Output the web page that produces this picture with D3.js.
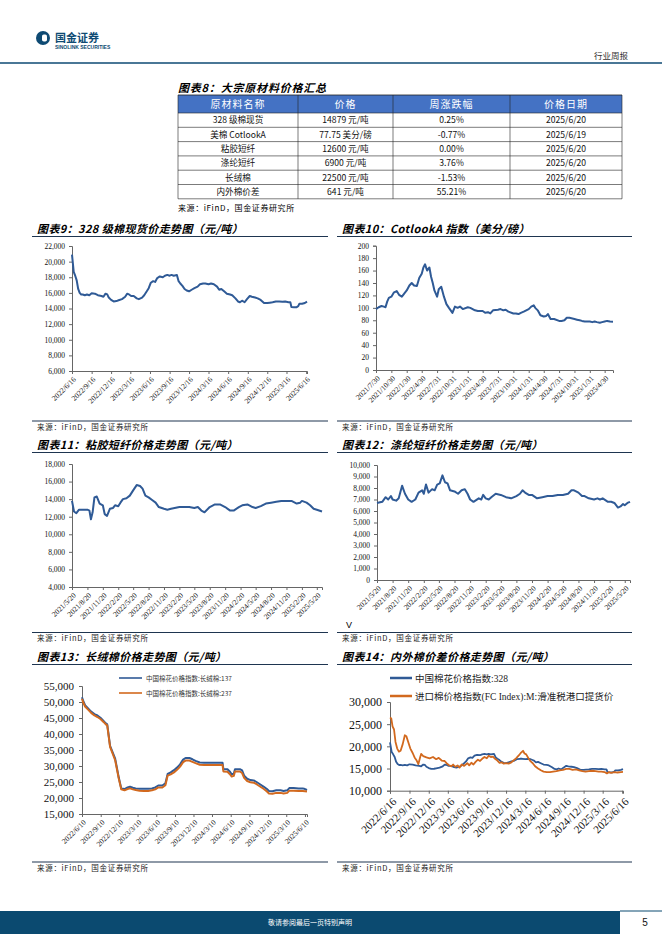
<!DOCTYPE html>
<html><head><meta charset="utf-8">
<script src="https://cdn.jsdelivr.net/npm/d3@7"></script>
<style>body{margin:0;background:#fff}svg{display:block}</style>
</head><body>
<script>
// ---------- DATA ----------
const tableHeader = ["原材料名称","价格","周涨跌幅","价格日期"];
const tableNames = ["328 级棉现货","美棉 CotlookA","粘胶短纤","涤纶短纤","长绒棉","内外棉价差"];
const tablePrices = ["14879 元/吨","77.75 美分/磅","12600 元/吨","6900 元/吨","22500 元/吨","641 元/吨"];
const tableChanges = ["0.25%","-0.77%","0.00%","3.76%","-1.53%","55.21%"];
const tableDates = ["2025/6/20","2025/6/19","2025/6/20","2025/6/20","2025/6/20","2025/6/20"];

const ticks9 = ["2022/6/16","2022/9/16","2022/12/16","2023/3/16","2023/6/16","2023/9/16","2023/12/16","2024/3/16","2024/6/16","2024/9/16","2024/12/16","2025/3/16","2025/6/16"];
const ticks10 = ["2021/7/30","2021/10/30","2022/1/30","2022/4/30","2022/7/31","2022/10/31","2023/1/31","2023/4/30","2023/7/31","2023/10/31","2024/1/31","2024/4/30","2024/7/31","2024/10/31","2025/1/31","2025/4/30"];
const ticks11 = ["2021/5/20","2021/8/20","2021/11/20","2022/2/20","2022/5/20","2022/8/20","2022/11/20","2023/2/20","2023/5/20","2023/8/20","2023/11/20","2024/2/20","2024/5/20","2024/8/20","2024/11/20","2025/2/20","2025/5/20"];
const ticks13 = ["2022/6/10","2022/9/10","2022/12/10","2023/3/10","2023/6/10","2023/9/10","2023/12/10","2024/3/10","2024/6/10","2024/9/10","2024/12/10","2025/3/10","2025/6/10"];

const cotton328 = [["2022/6/16",20900],["2022/6/20",19800],["2022/6/24",18700],["2022/7/1",18200],["2022/7/8",17600],["2022/7/15",16500],["2022/7/22",16000],["2022/7/29",15800],["2022/8/5",15800],["2022/8/15",15700],["2022/8/25",15800],["2022/9/5",15700],["2022/9/16",15950],["2022/10/1",15900],["2022/10/15",15700],["2022/11/1",15600],["2022/11/10",15500],["2022/11/20",15900],["2022/11/28",15800],["2022/12/5",15400],["2022/12/16",15100],["2022/12/28",14900],["2023/1/10",14950],["2023/1/20",15050],["2023/2/5",15200],["2023/2/20",15500],["2023/3/1",15900],["2023/3/10",15800],["2023/3/20",15600],["2023/4/1",15600],["2023/4/15",15300],["2023/4/25",15200],["2023/5/10",15400],["2023/5/20",15700],["2023/6/1",16200],["2023/6/10",16600],["2023/6/20",17300],["2023/7/1",17500],["2023/7/10",17400],["2023/7/20",17900],["2023/8/1",18100],["2023/8/15",18000],["2023/8/25",18200],["2023/9/5",18300],["2023/9/16",18200],["2023/9/25",18300],["2023/10/5",18200],["2023/10/20",18300],["2023/10/28",17500],["2023/11/5",17200],["2023/11/15",16900],["2023/11/25",16500],["2023/12/5",16300],["2023/12/16",16200],["2023/12/28",16400],["2024/1/10",16600],["2024/1/25",16800],["2024/2/5",17100],["2024/2/20",17200],["2024/3/1",17200],["2024/3/16",17100],["2024/3/28",17200],["2024/4/10",17100],["2024/4/25",16800],["2024/5/5",16400],["2024/5/15",16500],["2024/5/28",16200],["2024/6/10",15900],["2024/6/25",15800],["2024/7/5",15700],["2024/7/20",15300],["2024/8/1",14900],["2024/8/10",14800],["2024/8/20",15000],["2024/9/1",14800],["2024/9/12",15200],["2024/9/25",15600],["2024/10/5",15500],["2024/10/20",15400],["2024/11/1",15300],["2024/11/15",15100],["2024/12/1",14700],["2024/12/16",14700],["2024/12/28",14750],["2025/1/10",14800],["2025/1/25",14900],["2025/2/10",14900],["2025/2/25",14850],["2025/3/10",14900],["2025/3/25",14800],["2025/4/3",14800],["2025/4/8",14200],["2025/4/20",14150],["2025/5/1",14150],["2025/5/10",14300],["2025/5/15",14600],["2025/5/28",14600],["2025/6/10",14700],["2025/6/20",14879]];

const cotlookA = [["2021/7/30",98],["2021/8/15",101],["2021/9/1",103],["2021/9/15",102],["2021/9/25",101],["2021/10/5",110],["2021/10/15",116],["2021/10/30",118],["2021/11/15",125],["2021/12/1",127],["2021/12/15",121],["2022/1/1",118],["2022/1/15",123],["2022/1/30",128],["2022/2/15",136],["2022/3/1",140],["2022/3/15",136],["2022/4/1",135],["2022/4/15",148],["2022/4/30",155],["2022/5/10",165],["2022/5/20",170],["2022/6/1",160],["2022/6/15",165],["2022/6/25",150],["2022/7/5",140],["2022/7/15",128],["2022/7/31",118],["2022/8/10",130],["2022/8/25",134],["2022/9/10",118],["2022/9/25",106],["2022/10/10",100],["2022/10/31",92],["2022/11/15",102],["2022/12/1",100],["2022/12/15",102],["2023/1/1",98],["2023/1/31",101],["2023/2/15",100],["2023/3/1",98],["2023/3/15",96],["2023/4/1",95],["2023/4/30",95],["2023/5/15",92],["2023/6/1",93],["2023/6/15",91],["2023/7/1",96],["2023/7/31",97],["2023/8/15",98],["2023/9/1",96],["2023/9/15",97],["2023/10/1",94],["2023/10/31",91],["2023/11/15",91],["2023/12/1",90],["2023/12/15",92],["2024/1/1",94],["2024/1/31",98],["2024/2/15",102],["2024/3/1",104],["2024/3/10",100],["2024/3/25",96],["2024/4/10",88],["2024/4/30",86],["2024/5/15",87],["2024/5/25",90],["2024/6/10",82],["2024/7/1",82],["2024/7/31",79],["2024/8/15",79],["2024/9/1",80],["2024/9/15",84],["2024/10/1",84],["2024/10/31",82],["2024/11/15",81],["2024/12/1",80],["2024/12/15",79],["2025/1/1",78],["2025/1/31",78],["2025/2/15",77],["2025/3/1",78],["2025/3/15",77],["2025/4/1",76],["2025/4/15",77],["2025/4/30",78],["2025/5/15",79],["2025/6/1",78],["2025/6/19",77.75]];

const viscose = [["2021/5/20",13800],["2021/6/1",12600],["2021/6/15",12400],["2021/7/1",12800],["2021/7/20",12800],["2021/8/20",12800],["2021/9/1",12700],["2021/9/10",11700],["2021/9/20",12500],["2021/10/1",14200],["2021/10/15",14300],["2021/11/1",13500],["2021/11/20",13300],["2021/12/1",12300],["2021/12/15",12100],["2022/1/1",12900],["2022/1/20",13000],["2022/2/1",13300],["2022/2/20",13200],["2022/3/5",13600],["2022/3/20",14000],["2022/4/10",14100],["2022/4/30",14400],["2022/5/20",15000],["2022/6/10",15600],["2022/6/30",15500],["2022/7/15",15200],["2022/8/1",14400],["2022/8/20",14200],["2022/9/10",13900],["2022/10/1",13600],["2022/10/20",13100],["2022/11/20",12900],["2022/12/10",12800],["2023/1/1",12900],["2023/2/20",13100],["2023/3/20",13100],["2023/4/20",13100],["2023/5/20",13000],["2023/6/10",13100],["2023/7/1",12700],["2023/7/20",12500],["2023/8/20",13100],["2023/9/20",13400],["2023/10/20",13400],["2023/11/20",13100],["2023/12/20",12700],["2024/1/10",12700],["2024/2/10",13100],["2024/3/1",13300],["2024/4/1",13400],["2024/5/1",13100],["2024/5/20",13000],["2024/6/20",13200],["2024/7/20",13500],["2024/8/20",13600],["2024/9/20",13700],["2024/10/20",13800],["2024/11/20",13800],["2024/12/20",13800],["2025/1/20",13500],["2025/2/10",13600],["2025/2/20",13800],["2025/3/20",13600],["2025/4/10",13300],["2025/5/1",12900],["2025/5/20",12800],["2025/6/20",12600]];

const polyester = [["2021/5/20",6700],["2021/6/20",6800],["2021/7/10",7200],["2021/7/25",7000],["2021/8/10",7300],["2021/8/20",7000],["2021/9/10",6900],["2021/9/25",7100],["2021/10/15",8200],["2021/11/1",7500],["2021/11/20",7000],["2021/12/10",6800],["2022/1/1",7000],["2022/1/20",7600],["2022/2/10",7800],["2022/2/20",7500],["2022/3/5",8300],["2022/3/20",7600],["2022/4/10",7900],["2022/4/25",7800],["2022/5/10",8300],["2022/5/25",8400],["2022/6/10",9100],["2022/6/25",8500],["2022/7/10",8400],["2022/7/25",7800],["2022/8/20",7700],["2022/9/10",7500],["2022/10/1",7800],["2022/10/20",7900],["2022/11/5",7500],["2022/11/20",7000],["2022/12/10",6800],["2023/1/10",7100],["2023/1/25",7000],["2023/2/5",7400],["2023/2/20",7100],["2023/3/10",7000],["2023/3/25",7200],["2023/4/20",7500],["2023/5/20",7400],["2023/6/20",7200],["2023/7/20",7100],["2023/8/20",7300],["2023/9/10",7500],["2023/9/25",7800],["2023/10/10",7600],["2023/11/1",7400],["2023/11/20",7400],["2023/12/20",7100],["2024/1/20",7200],["2024/2/20",7300],["2024/3/20",7300],["2024/4/20",7400],["2024/5/20",7400],["2024/6/20",7500],["2024/7/10",7800],["2024/7/25",7800],["2024/8/20",7600],["2024/9/10",7300],["2024/9/25",7300],["2024/10/20",7100],["2024/11/20",7000],["2024/12/10",7100],["2024/12/25",7000],["2025/1/10",7100],["2025/2/10",6800],["2025/3/1",6800],["2025/3/20",6700],["2025/4/10",6300],["2025/4/25",6400],["2025/5/10",6600],["2025/5/20",6500],["2025/6/5",6700],["2025/6/20",6800]];

const longStaple137 = [["2022/6/10",51500],["2022/6/15",50500],["2022/6/25",49000],["2022/7/10",48000],["2022/7/25",47000],["2022/8/10",46200],["2022/8/25",45800],["2022/9/10",45000],["2022/9/25",44000],["2022/10/5",43300],["2022/10/12",43000],["2022/10/26",36300],["2022/11/20",32300],["2022/12/8",26300],["2022/12/20",23000],["2023/1/5",22800],["2023/1/20",23300],["2023/2/1",23500],["2023/2/15",23200],["2023/3/1",23000],["2023/3/20",22900],["2023/4/10",22900],["2023/5/1",22900],["2023/5/20",23000],["2023/6/5",23300],["2023/6/20",23900],["2023/7/10",23900],["2023/7/25",24600],["2023/8/5",27500],["2023/8/20",28000],["2023/9/5",28700],["2023/9/20",29500],["2023/10/5",30500],["2023/10/20",32000],["2023/11/1",32500],["2023/11/20",32500],["2023/12/5",32100],["2023/12/20",31600],["2024/1/10",31100],["2024/2/1",31000],["2024/3/1",31000],["2024/4/1",31000],["2024/5/1",31000],["2024/5/5",29000],["2024/5/25",29000],["2024/6/5",28300],["2024/6/15",27400],["2024/6/25",27600],["2024/7/1",29000],["2024/7/25",29000],["2024/8/5",28600],["2024/8/15",27000],["2024/8/30",26000],["2024/9/15",25600],["2024/10/1",25500],["2024/10/15",25000],["2024/11/1",24300],["2024/11/20",23500],["2024/12/5",22800],["2024/12/15",22200],["2025/1/1",22100],["2025/1/20",22400],["2025/2/10",22400],["2025/2/25",22200],["2025/3/15",22400],["2025/3/25",23100],["2025/4/15",23100],["2025/5/10",23000],["2025/5/30",23000],["2025/6/10",22800],["2025/6/20",22500]];

const longStaple237 = [["2022/6/10",51000],["2022/6/15",50000],["2022/6/25",48600],["2022/7/10",47600],["2022/7/25",46600],["2022/8/10",45800],["2022/8/25",45300],["2022/9/10",44600],["2022/9/25",43700],["2022/10/5",43000],["2022/10/12",42700],["2022/10/26",36000],["2022/11/20",31800],["2022/12/8",26000],["2022/12/20",22700],["2023/1/5",22400],["2023/1/20",22800],["2023/2/1",23000],["2023/2/15",22700],["2023/3/1",22500],["2023/3/20",22300],["2023/4/10",22200],["2023/5/1",22200],["2023/5/20",22400],["2023/6/5",22700],["2023/6/20",23300],["2023/7/10",23300],["2023/7/25",24000],["2023/8/5",27000],["2023/8/20",27400],["2023/9/5",28000],["2023/9/20",28800],["2023/10/5",29800],["2023/10/20",31200],["2023/11/1",31700],["2023/11/20",31700],["2023/12/5",31300],["2023/12/20",30900],["2024/1/10",30400],["2024/2/1",30300],["2024/3/1",30300],["2024/4/1",30300],["2024/5/1",30300],["2024/5/5",28300],["2024/5/25",28200],["2024/6/5",27500],["2024/6/15",26700],["2024/6/25",26900],["2024/7/1",28300],["2024/7/25",28300],["2024/8/5",27800],["2024/8/15",26300],["2024/8/30",25300],["2024/9/15",24900],["2024/10/1",24800],["2024/10/15",24300],["2024/11/1",23600],["2024/11/20",22800],["2024/12/5",22000],["2024/12/15",21400],["2025/1/1",21300],["2025/1/20",21600],["2025/2/10",21600],["2025/2/25",21400],["2025/3/15",21600],["2025/3/25",22300],["2025/4/15",22300],["2025/5/10",22200],["2025/5/30",22200],["2025/6/10",22100],["2025/6/20",22000]];

const fcIndexM = [["2022/6/16",26500],["2022/6/22",26300],["2022/6/28",24500],["2022/7/5",23800],["2022/7/12",21000],["2022/7/20",19500],["2022/7/28",18800],["2022/8/5",19000],["2022/8/15",20500],["2022/8/25",22500],["2022/9/1",22300],["2022/9/10",21000],["2022/9/20",19500],["2022/10/1",18500],["2022/10/10",17500],["2022/10/20",16800],["2022/10/28",16000],["2022/11/5",17500],["2022/11/10",18300],["2022/11/20",17800],["2022/12/5",17500],["2022/12/20",17300],["2023/1/5",17600],["2023/1/20",17100],["2023/2/1",17400],["2023/2/15",16800],["2023/3/1",16700],["2023/3/10",16200],["2023/3/20",15800],["2023/4/1",15500],["2023/4/10",15900],["2023/4/20",15400],["2023/5/1",15700],["2023/5/10",15200],["2023/5/20",15900],["2023/6/1",15600],["2023/6/16",16200],["2023/6/25",15700],["2023/7/5",16300],["2023/7/15",15900],["2023/7/25",16500],["2023/8/5",17000],["2023/8/15",16700],["2023/8/25",17200],["2023/9/5",17600],["2023/9/16",17300],["2023/9/25",17900],["2023/10/5",17600],["2023/10/15",17700],["2023/10/25",17200],["2023/11/5",16800],["2023/11/15",16300],["2023/11/25",16400],["2023/12/5",16100],["2023/12/16",16200],["2023/12/28",16100],["2024/1/10",16400],["2024/1/20",16800],["2024/2/1",17300],["2024/2/15",18000],["2024/2/25",18600],["2024/3/5",19000],["2024/3/12",18400],["2024/3/20",18200],["2024/4/1",17200],["2024/4/10",16600],["2024/4/20",16200],["2024/5/1",15500],["2024/5/15",15000],["2024/5/28",14600],["2024/6/10",14300],["2024/6/25",14200],["2024/7/10",14200],["2024/7/25",14300],["2024/8/10",14400],["2024/8/25",14600],["2024/9/10",14700],["2024/9/25",14900],["2024/10/10",14900],["2024/10/25",14700],["2024/11/10",14800],["2024/11/25",14600],["2024/12/10",14400],["2024/12/25",14300],["2025/1/10",14400],["2025/1/25",14500],["2025/2/10",14400],["2025/2/25",14300],["2025/3/10",14300],["2025/3/25",14200],["2025/4/5",13900],["2025/4/15",14200],["2025/4/25",14000],["2025/5/10",14200],["2025/5/25",14100],["2025/6/10",14200],["2025/6/20",14240]];

// ---------- DRAW ----------
const W = 662, H = 936;
const svg = d3.select("body").append("svg").attr("width", W).attr("height", H);
const parse = d3.timeParse("%Y/%m/%d");
const fmtDate = d3.timeFormat("%Y/%-m/%-d");
const CJK = "'Noto Sans CJK SC','Noto Sans',sans-serif";
const SERIF = "'Liberation Serif','DejaVu Serif',serif";
const NAVY = "#0e4a73";
const BLUE = "#2f5a96", ORANGE = "#d2691e";

// header
svg.append("circle").attr("cx", 43).attr("cy", 38).attr("r", 7).attr("fill", NAVY);
svg.append("rect").attr("x", 42).attr("y", 34.5).attr("width", 5).attr("height", 7).attr("rx", 1.8).attr("fill", "#fff");
svg.append("text").attr("x", 55).attr("y", 41.5).text("国金证券")
  .attr("font-family", CJK).attr("font-size", 11).attr("font-weight", "bold").attr("fill", NAVY);
svg.append("text").attr("x", 55).attr("y", 48.5).text("SINOLINK SECURITIES")
  .attr("font-family", "'Liberation Sans',Arial,sans-serif").attr("font-size", 5).attr("font-weight", "bold").attr("fill", NAVY);
svg.append("text").attr("x", 628).attr("y", 59).attr("text-anchor", "end").text("行业周报")
  .attr("font-family", CJK).attr("font-size", 8.5).attr("fill", "#333");
svg.append("line").attr("x1", 0).attr("x2", W).attr("y1", 63).attr("y2", 63).attr("stroke", NAVY).attr("stroke-width", 1.5);

// table
svg.append("text").attr("x", 178).attr("y", 92).text("图表8：大宗原材料价格汇总")
  .attr("font-family", CJK).attr("font-size", 11).attr("font-weight", "bold").attr("font-style", "italic").attr("letter-spacing", 0.8);
const colX = [178, 298, 393, 510, 622];
const hTop = 95, hBot = 113, rowH = 14.3;
svg.append("rect").attr("x", colX[0]).attr("y", hTop).attr("width", colX[4] - colX[0]).attr("height", hBot - hTop).attr("fill", "#4472c4");
tableHeader.forEach((t, i) => {
  svg.append("text").attr("x", (colX[i] + colX[i + 1]) / 2).attr("y", hBot - 5).attr("text-anchor", "middle")
    .text(t).attr("font-family", CJK).attr("font-size", 10).attr("fill", "#fff").attr("letter-spacing", 1);
});
const cols = [tableNames, tablePrices, tableChanges, tableDates];
tableNames.forEach((_, r) => {
  const y0 = hBot + r * rowH;
  cols.forEach((c, i) => {
    svg.append("text").attr("x", (colX[i] + colX[i + 1]) / 2).attr("y", y0 + rowH - 4).attr("text-anchor", "middle")
      .text(c[r]).attr("font-family", CJK).attr("font-size", 8.6).attr("fill", "#111");
  });
  svg.append("line").attr("x1", colX[0]).attr("x2", colX[4]).attr("y1", y0 + rowH).attr("y2", y0 + rowH).attr("stroke", "#222").attr("stroke-width", 0.6);
});
const tBot = hBot + tableNames.length * rowH;
svg.append("line").attr("x1", colX[0]).attr("x2", colX[4]).attr("y1", hBot).attr("y2", hBot).attr("stroke", "#222").attr("stroke-width", 0.6);
svg.append("line").attr("x1", colX[0]).attr("x2", colX[4]).attr("y1", hTop).attr("y2", hTop).attr("stroke", "#222").attr("stroke-width", 0.8);
colX.forEach(x => svg.append("line").attr("x1", x).attr("x2", x).attr("y1", hTop).attr("y2", tBot).attr("stroke", "#222").attr("stroke-width", 0.6));
svg.append("text").attr("x", 178).attr("y", 211).text("来源：iFinD，国金证券研究所")
  .attr("font-family", CJK).attr("font-size", 8).attr("letter-spacing", 0.6);

function frame(x0, x1, titleY, lineY, srcLineY, title) {
  svg.append("text").attr("x", x0 + 5).attr("y", titleY).text(title)
    .attr("font-family", CJK).attr("font-size", 11).attr("font-weight", "bold").attr("font-style", "italic").attr("letter-spacing", 0.4);
  svg.append("line").attr("x1", x0).attr("x2", x1).attr("y1", lineY).attr("y2", lineY).attr("stroke", "#1e3550").attr("stroke-width", 1.2);
  svg.append("line").attr("x1", x0).attr("x2", x1).attr("y1", srcLineY).attr("y2", srcLineY).attr("stroke", "#1e3550").attr("stroke-width", 1.2);
  svg.append("text").attr("x", x0 + 5).attr("y", srcLineY + 8.5).text("来源：iFinD，国金证券研究所")
    .attr("font-family", CJK).attr("font-size", 7.5).attr("letter-spacing", 0.7).attr("fill", "#222");
}

function chart(o) {
  const g = svg.append("g");
  const x = d3.scaleTime().domain(o.dates.map(parse)).range([o.x0, o.x1]);
  const y = d3.scaleLinear().domain(o.yDomain).range([o.yB, o.yT]);
  const ya = g.append("g").attr("transform", `translate(${o.x0},0)`)
    .call(d3.axisLeft(y).tickValues(o.yTicks).tickSize(3).tickPadding(o.yPad || 4).tickFormat(o.yFmt));
  ya.selectAll("text").attr("font-family", SERIF).attr("font-size", o.yFont).attr("fill", "#111");
  ya.selectAll("path,line").attr("stroke", "#666");
  const xa = g.append("g").attr("transform", `translate(0,${o.yB})`)
    .call(d3.axisBottom(x).tickValues(o.xTicks.map(parse)).tickSize(3).tickFormat(fmtDate));
  xa.selectAll("path,line").attr("stroke", "#666");
  xa.selectAll("text").attr("font-family", SERIF).attr("font-size", o.xFont).attr("fill", "#111")
    .attr("text-anchor", "end").attr("x", 0).attr("y", 0).attr("dy", "0.35em")
    .attr("transform", `translate(${o.xOff || 2},${o.yOff || 7}) rotate(-45)`);
  const line = d3.line().x(d => x(parse(d[0]))).y(d => y(d[1])).curve(d3.curveLinear);
  o.series.forEach(s => {
    g.append("path").datum(s.data).attr("d", line).attr("fill", "none")
      .attr("stroke", s.color).attr("stroke-width", s.width || 2).attr("stroke-linejoin", "round");
  });
}

const comma = d3.format(",");
const yr = d3.range;

// Chart 9
frame(32, 328, 233, 236.5, 421, "图表9：328 级棉现货价走势图（元/吨）");
chart({ x0: 72, x1: 307, yT: 246, yB: 371, dates: ["2022/6/16", "2025/6/20"], yDomain: [6000, 22000],
  yTicks: yr(6000, 22001, 2000), yFmt: comma, yFont: 7.5, xFont: 7.5, xTicks: ticks9,
  series: [{ data: cotton328, color: BLUE }] });

// Chart 10
frame(337, 632, 233, 236.5, 421, "图表10：CotlookA 指数（美分/磅）");
chart({ x0: 376, x1: 613, yT: 245.7, yB: 370, dates: ["2021/7/30", "2025/6/19"], yDomain: [0, 200],
  yTicks: yr(0, 201, 20), yFmt: d3.format("d"), yFont: 7.5, xFont: 7.5, xTicks: ticks10,
  series: [{ data: cotlookA, color: BLUE }] });

// Chart 11
frame(32, 328, 449, 452.5, 632.5, "图表11：粘胶短纤价格走势图（元/吨）");
chart({ x0: 72, x1: 322, yT: 464, yB: 587, dates: ["2021/5/20", "2025/6/20"], yDomain: [4000, 18000],
  yTicks: yr(4000, 18001, 2000), yFmt: comma, yFont: 7.5, xFont: 7.5, xTicks: ticks11,
  series: [{ data: viscose, color: BLUE }] });

// Chart 12
frame(337, 632, 449, 452.5, 632.5, "图表12：涤纶短纤价格走势图（元/吨）");
chart({ x0: 377, x1: 630, yT: 465, yB: 580, dates: ["2021/5/20", "2025/6/20"], yDomain: [0, 10000],
  yTicks: yr(0, 10001, 1000), yFmt: comma, yFont: 7.5, xFont: 7.5, xTicks: ticks11,
  series: [{ data: polyester, color: BLUE }] });
svg.append("text").attr("x", 346).attr("y", 628).text("V").attr("font-family", "'Liberation Sans',sans-serif").attr("font-size", 9);

// Chart 13
frame(32, 328, 661, 664.5, 862, "图表13：长绒棉价格走势图（元/吨）");
chart({ x0: 82, x1: 307, yT: 686, yB: 814, dates: ["2022/6/10", "2025/6/20"], yDomain: [15000, 55000],
  yTicks: yr(15000, 55001, 5000), yFmt: comma, yFont: 11, yPad: 5, xFont: 7.5, xTicks: ticks13,
  series: [{ data: longStaple137, color: BLUE, width: 2 }, { data: longStaple237, color: ORANGE, width: 2 }] });
[[BLUE, "中国棉花价格指数:长绒棉:137", 678], [ORANGE, "中国棉花价格指数:长绒棉:237", 693]].forEach(l => {
  svg.append("line").attr("x1", 119).attr("x2", 142).attr("y1", l[2]).attr("y2", l[2]).attr("stroke", l[0]).attr("stroke-width", 1.6);
  svg.append("text").attr("x", 146).attr("y", l[2] + 2.5).text(l[1]).attr("font-family", CJK).attr("font-size", 6.5).attr("fill", "#333");
});

// Chart 14
frame(337, 632, 661, 664.5, 862, "图表14：内外棉价差价格走势图（元/吨）");
chart({ x0: 390, x1: 623, yT: 702, yB: 790.7, dates: ["2022/6/16", "2025/6/20"], yDomain: [10000, 30000],
  yTicks: yr(10000, 30001, 5000), yFmt: comma, yFont: 12, yPad: 5, xFont: 11, xOff: 4, yOff: 9, xTicks: ticks9,
  series: [{ data: cotton328, color: BLUE, width: 1.8 }, { data: fcIndexM, color: ORANGE, width: 1.8 }] });
[[BLUE, "中国棉花价格指数:328", 678], [ORANGE, "进口棉价格指数(FC Index):M:滑准税港口提货价", 696]].forEach(l => {
  svg.append("line").attr("x1", 390).attr("x2", 412).attr("y1", l[2]).attr("y2", l[2]).attr("stroke", l[0]).attr("stroke-width", 2.5);
  svg.append("text").attr("x", 415).attr("y", l[2] + 3.5).text(l[1]).attr("font-family", "'Liberation Serif','Noto Sans CJK SC',serif").attr("font-size", 9.5).attr("fill", "#222");
});

// footer
svg.append("rect").attr("x", 0).attr("y", 911).attr("width", 620).attr("height", 23).attr("fill", "#0b4a70");
svg.append("line").attr("x1", 620).attr("x2", W).attr("y1", 911).attr("y2", 911).attr("stroke", "#0b4a70").attr("stroke-width", 1);
svg.append("text").attr("x", 310).attr("y", 925).attr("text-anchor", "middle").text("敬请参阅最后一页特别声明")
  .attr("font-family", CJK).attr("font-size", 7).attr("fill", "#fff");
svg.append("text").attr("x", 645).attr("y", 926).attr("text-anchor", "middle").text("5")
  .attr("font-family", "'Liberation Sans',sans-serif").attr("font-size", 10).attr("fill", "#111");
</script>
</body></html>
